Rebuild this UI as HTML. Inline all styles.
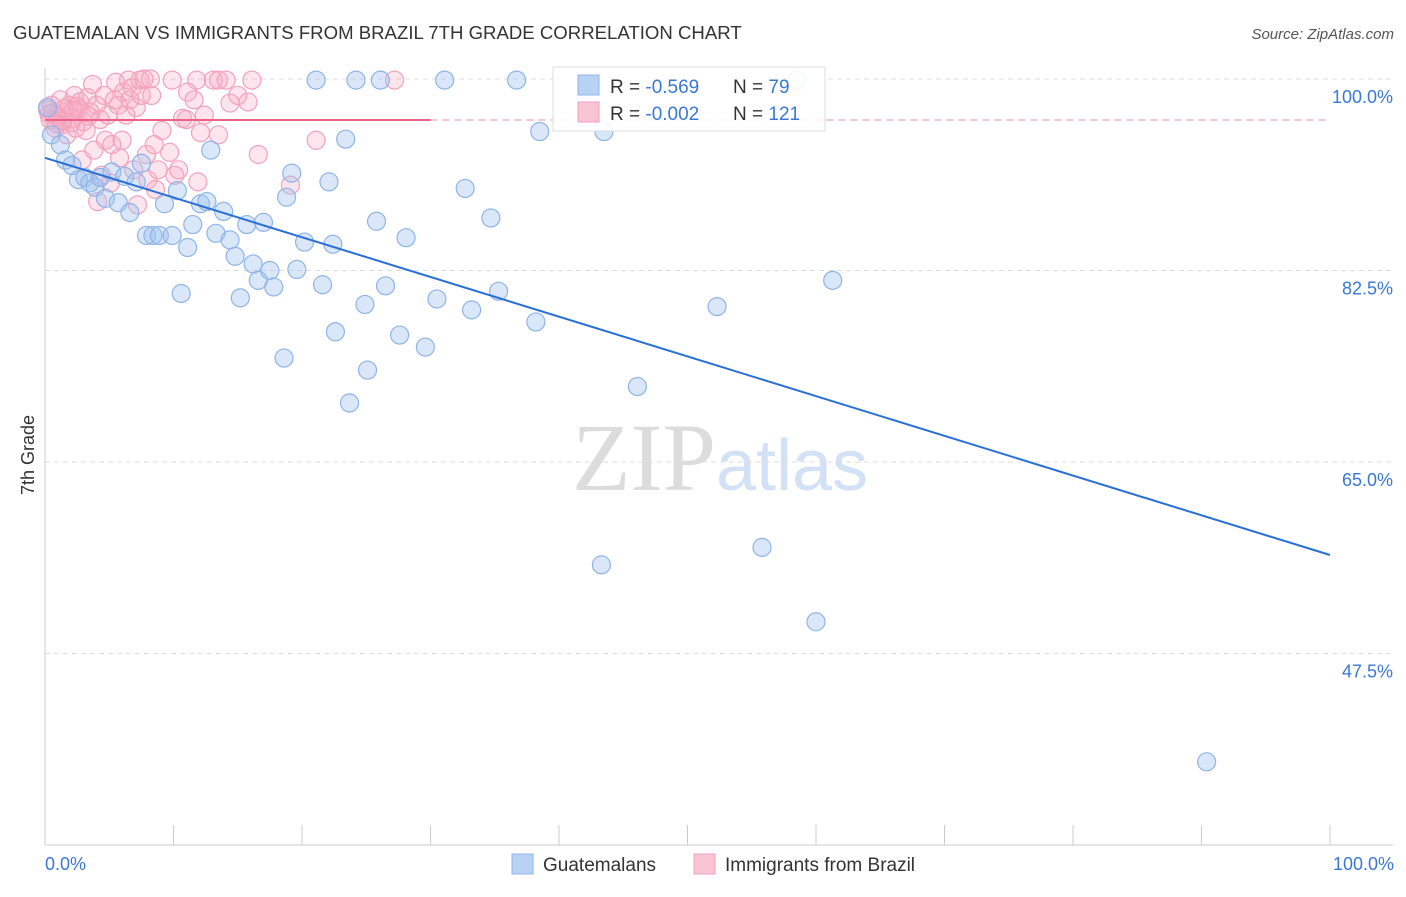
<!DOCTYPE html>
<html><head><meta charset="utf-8"><style>
body{margin:0;background:#fff;font-family:"Liberation Sans",sans-serif}
svg text{font-family:"Liberation Sans",sans-serif}
</style></head><body>
<svg id="c" width="1406" height="892">
<text x="13" y="39" font-size="18.6" fill="#333">GUATEMALAN VS IMMIGRANTS FROM BRAZIL 7TH GRADE CORRELATION CHART</text>
<text x="1394" y="39" font-size="15" fill="#555" font-style="italic" text-anchor="end">Source: ZipAtlas.com</text>
<text x="720" y="490" font-size="96" fill="#ddd" text-anchor="middle" font-family="Liberation Serif"><tspan fill="#dcdcdc" font-family="Liberation Serif">ZIP</tspan><tspan fill="#d2e1f5" font-family="Liberation Sans" font-size="72">atlas</tspan></text>
<text transform="translate(34,455) rotate(-90)" font-size="18" fill="#333" text-anchor="middle">7th Grade</text>
<g id="grid"></g><g id="pts"></g><g id="lines"></g>
<g>
<rect x="553" y="67" width="272" height="64" fill="#fff" fill-opacity="0.9" stroke="#ddd"/>
<rect x="578" y="75" width="21" height="20" fill="#b8d2f4" stroke="#8fb4e8"/>
<rect x="578" y="102" width="21" height="20" fill="#f8c4d4" stroke="#f0a0b8"/>
<text x="610" y="93" font-size="19" fill="#333">R = <tspan fill="#3a78d8">-0.569</tspan><tspan x="733">N = </tspan><tspan fill="#3a78d8">79</tspan></text>
<text x="610" y="120" font-size="19" fill="#333">R = <tspan fill="#3a78d8">-0.002</tspan><tspan x="733">N = </tspan><tspan fill="#3a78d8">121</tspan></text>
</g>
<g>
<rect x="512" y="854" width="21" height="20" fill="#b8d2f4" stroke="#8fb4e8"/>
<text x="543" y="871" font-size="19" fill="#333">Guatemalans</text>
<rect x="694" y="854" width="21" height="20" fill="#f8c4d4" stroke="#f0a0b8"/>
<text x="725" y="871" font-size="19" fill="#333">Immigrants from Brazil</text>
</g>
</svg>
<script>
const yTicks=[100,82.5,65,47.5];
const yTickLabels=["100.0%","82.5%","65.0%","47.5%"];
const xTickLabels=["0.0%","100.0%"];
const blueX=[0.2,0.5,1.2,1.6,2.1,2.6,3.1,3.5,3.9,4.3,4.7,5.2,5.7,6.2,6.6,7.1,7.5,7.9,8.4,8.9,9.3,9.9,10.3,10.6,11.1,11.5,12.1,12.6,12.9,13.3,13.9,14.4,14.8,15.2,15.7,16.2,16.6,17.0,17.5,17.8,18.6,18.8,19.2,19.6,20.2,21.1,21.6,22.1,22.4,22.6,23.4,23.7,24.2,24.9,25.1,25.8,26.1,26.5,27.6,28.1,29.6,30.5,31.1,32.7,33.2,34.7,35.3,36.7,38.2,38.5,43.3,43.5,46.1,52.3,55.8,58.5,60.0,61.3,90.4];
const blueY=[97.4,94.9,94.0,92.6,92.1,90.8,91.0,90.5,90.1,91.0,89.1,91.5,88.7,91.1,87.8,90.6,92.3,85.7,85.7,85.7,88.6,85.7,89.8,80.4,84.6,86.7,88.6,88.8,93.5,85.9,87.9,85.3,83.8,80.0,86.7,83.1,81.6,86.9,82.5,81.0,74.5,89.2,91.4,82.6,85.1,99.9,81.2,90.6,84.9,76.9,94.5,70.4,99.9,79.4,73.4,87.0,99.9,81.1,76.6,85.5,75.5,79.9,99.9,90.0,78.9,87.3,80.6,99.9,77.8,95.2,55.6,95.2,71.9,79.2,57.2,99.9,50.4,81.6,37.6];
const pinkX=[0.2,0.4,0.5,0.8,0.9,1.2,1.3,1.6,1.7,1.9,2.1,2.3,2.4,2.6,2.7,2.9,3.0,3.2,3.3,3.5,3.7,3.8,4.0,4.1,4.3,4.4,4.6,4.7,4.9,5.1,5.2,5.4,5.5,5.7,5.8,6.0,6.1,6.3,6.5,6.6,6.8,6.9,7.1,7.2,7.4,7.5,7.7,7.9,8.0,8.2,8.3,8.5,8.6,8.8,9.1,9.7,9.9,10.1,10.4,10.7,11.0,11.1,11.6,11.8,11.9,12.1,12.4,13.1,13.5,13.5,14.1,14.4,15.0,15.8,16.1,16.6,19.1,21.1,27.2,0.3,1.0,1.5,2.0,2.5,0.6,1.4,2.2,3.4,0.9];
const pinkY=[97.2,96.3,97.6,95.5,96.7,98.1,95.8,97.0,94.9,97.6,96.4,98.5,95.5,97.2,97.9,92.6,96.1,95.3,98.3,97.0,99.5,93.5,97.6,88.8,96.3,91.2,98.5,94.4,96.7,90.5,94.0,98.1,99.7,97.6,92.8,94.4,98.8,96.7,99.9,98.1,99.2,91.7,97.4,88.5,99.9,98.5,100,93.1,90.8,100,98.5,94.0,89.9,91.7,95.3,93.3,99.9,91.2,91.7,96.4,96.3,98.8,98.1,99.9,90.6,95.1,96.7,99.9,99.9,94.9,99.9,97.8,98.5,97.9,99.9,93.1,90.3,94.4,99.9,96.8,96.5,97.3,96.0,97.5,96.9,96.2,97.1,96.6,95.9];
const blueFit=[92.8,56.5], pinkFit=[96.25,96.25];
const X0=45,X1=1330,Y0=79,Y1=845,YMIN=30,YMAX=100;
const sx=v=>X0+v/100*(X1-X0), sy=v=>Y0+(YMAX-v)/(YMAX-YMIN)*(Y1-Y0);
const NS="http://www.w3.org/2000/svg";
function mk(t,a,p){const e=document.createElementNS(NS,t);for(const k in a)e.setAttribute(k,a[k]);p.appendChild(e);return e;}
const grid=document.getElementById('grid'),pts=document.getElementById('pts'),lines=document.getElementById('lines');
yTicks.forEach((t,i)=>{
 const l=mk('line',{x1:X0,x2:1393,y1:sy(t),y2:sy(t),stroke:'#ddd','stroke-dasharray':'5,4'},grid);
 
 
 const tx=mk('text',{x:1393,y:sy(t)+24,'font-size':18,fill:'#3a78d8','text-anchor':'end'},grid);tx.textContent=yTickLabels[i];
 
 
});
const ax=mk('line',{x1:X0,x2:1393,y1:Y1,y2:Y1,stroke:'#ccc'},grid);


const ay=mk('line',{x1:X0,x2:X0,y1:68,y2:Y1,stroke:'#ccc'},grid);


for(let i=0;i<=10;i++){const t=mk('line',{x1:sx(i*10),x2:sx(i*10),y1:825,y2:Y1,stroke:'#ccc'},grid);
 
 }
[[0,'start',X0],[1,'end',1394]].forEach(([i,a,x])=>{const t=mk('text',{x:x,y:870,'font-size':18,fill:'#3a78d8','text-anchor':a},grid);t.textContent=xTickLabels[i];
 
 });
pinkX.forEach((x,i)=>{const c=mk('circle',{cx:sx(x),cy:sy(pinkY[i]),r:9,fill:'rgba(248,170,195,0.3)',stroke:'#f2a2bb','stroke-width':1.2},pts);
 
 });
blueX.forEach((x,i)=>{const c=mk('circle',{cx:sx(x),cy:sy(blueY[i]),r:9,fill:'rgba(160,195,240,0.4)',stroke:'#8fb4e8','stroke-width':1.2},pts);
 
 });
const bl=mk('line',{x1:sx(0),x2:sx(100),y1:sy(blueFit[0]),y2:sy(blueFit[1]),stroke:'#2a6fd8','stroke-width':2},lines);


const pl=mk('line',{x1:sx(0),x2:sx(30),y1:sy(pinkFit[0]),y2:sy(pinkFit[0]+(pinkFit[1]-pinkFit[0])*0.3),stroke:'#ee5f8a','stroke-width':2},lines);


const pd=mk('line',{x1:sx(30),x2:sx(100),y1:sy(pinkFit[0]+(pinkFit[1]-pinkFit[0])*0.3),y2:sy(pinkFit[1]),stroke:'#f0a0b8','stroke-width':1.2,'stroke-dasharray':'7,5'},lines);


</script>
</body></html>
